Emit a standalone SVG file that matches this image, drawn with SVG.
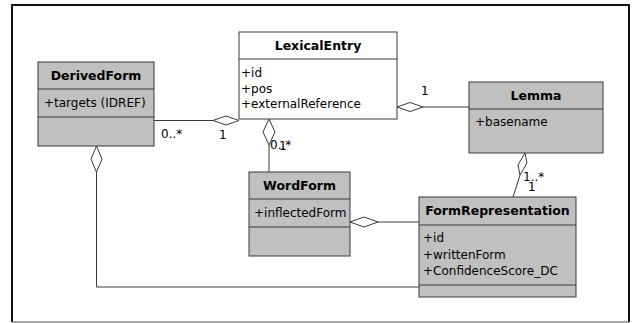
<svg xmlns="http://www.w3.org/2000/svg" width="632" height="323" viewBox="0 0 632 323">
<style>
.box{stroke:#3a3a3a;stroke-width:1}
.gray{fill:#c0c0c0}
.white{fill:#ffffff}
.sep{stroke:#3a3a3a;stroke-width:1}
.t{font-family:"DejaVu Sans",sans-serif;font-size:12.5px;font-weight:bold;fill:#000;text-anchor:middle}
.a{font-family:"DejaVu Sans",sans-serif;font-size:12px;fill:#000}
.l{font-family:"DejaVu Sans",sans-serif;font-size:12px;fill:#000}
.c{fill:none;stroke:#3a3a3a;stroke-width:1}
.d{fill:#ffffff;stroke:#3a3a3a;stroke-width:1}
</style>
<rect x="0" y="0" width="632" height="323" fill="#ffffff"/>
<polyline points="12,322 12,5 629,5 629,322" fill="none" stroke="#111" stroke-width="2"/>
<line x1="12" y1="322" x2="629" y2="322" stroke="#555" stroke-width="1.2"/>

<g id="connectors">
  <!-- DerivedForm - LexicalEntry -->
  <line class="c" x1="154" y1="120.5" x2="213" y2="120.5"/>
  <polygon class="d" points="239,120.5 226,116 213,120.5 226,125"/>
  <text class="l" x="161" y="138">0..*</text>
  <text class="l" x="219" y="139">1</text>
  <!-- LexicalEntry - Lemma -->
  <line class="c" x1="423" y1="107" x2="469" y2="107"/>
  <polygon class="d" points="397,107 410,102.5 423,107 410,111.5"/>
  <text class="l" x="421" y="95">1</text>
  <text class="l" x="472" y="95">1</text>
  <!-- LexicalEntry - WordForm -->
  <line class="c" x1="269" y1="145" x2="269" y2="172"/>
  <polygon class="d" points="269,119 275,132 269,145 263,132"/>
  <text class="l" x="270" y="149">0..*</text>
  <text class="l" x="279" y="150">1</text>
  <!-- WordForm - FormRepresentation -->
  <line class="c" x1="378" y1="222" x2="419" y2="222"/>
  <polygon class="d" points="350,222 364,217 378,222 364,227"/>
  <!-- DerivedForm - FormRepresentation -->
  <polyline class="c" points="96.5,172 96.5,287 419,287"/>
  <polygon class="d" points="96.5,146 102,159 96.5,172 91,159"/>
  <!-- Lemma - FormRepresentation -->
  <line class="c" x1="520" y1="175" x2="513" y2="197"/>
  <polygon class="d" points="525,153 527,163 520,175 518,165"/>
  <text class="l" x="523" y="181">1..*</text>
  <text class="l" x="528" y="191">1</text>
</g>

<g id="LexicalEntry">
  <rect class="box white" x="239" y="32" width="158" height="87"/>
  <line class="sep" x1="239" y1="59" x2="397" y2="59"/>
  <text class="t" x="318" y="50">LexicalEntry</text>
  <text class="a" x="241" y="77">+id</text>
  <text class="a" x="241" y="92.5">+pos</text>
  <text class="a" x="241" y="108">+externalReference</text>
</g>

<g id="DerivedForm">
  <rect class="box gray" x="38" y="62" width="116" height="84"/>
  <line class="sep" x1="38" y1="89" x2="154" y2="89"/>
  <line class="sep" x1="38" y1="117" x2="154" y2="117"/>
  <text class="t" x="96" y="80">DerivedForm</text>
  <text class="a" x="44" y="107">+targets (IDREF)</text>
</g>

<g id="Lemma">
  <rect class="box gray" x="469" y="82" width="134" height="71"/>
  <line class="sep" x1="469" y1="109" x2="603" y2="109"/>
  <text class="t" x="536" y="100">Lemma</text>
  <text class="a" x="475" y="126">+basename</text>
</g>

<g id="WordForm">
  <rect class="box gray" x="249" y="172" width="101" height="84"/>
  <line class="sep" x1="249" y1="199" x2="350" y2="199"/>
  <line class="sep" x1="249" y1="227" x2="350" y2="227"/>
  <text class="t" x="299.5" y="190">WordForm</text>
  <text class="a" x="254" y="217">+inflectedForm</text>
</g>

<g id="FormRepresentation">
  <rect class="box gray" x="419" y="197" width="157" height="100"/>
  <line class="sep" x1="419" y1="225" x2="576" y2="225"/>
  <line class="sep" x1="419" y1="285" x2="576" y2="285"/>
  <text class="t" x="497.5" y="215">FormRepresentation</text>
  <text class="a" x="423" y="242">+id</text>
  <text class="a" x="423" y="258.5">+writtenForm</text>
  <text class="a" x="423" y="275">+ConfidenceScore_DC</text>
</g>
</svg>
